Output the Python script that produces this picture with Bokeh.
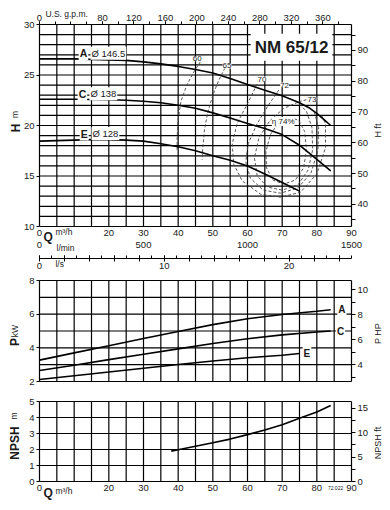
import math
from bokeh.plotting import figure
from bokeh.models import Range1d, LinearAxis, FixedTicker, Label
from bokeh.embed import file_html
from bokeh.resources import INLINE

FONT = "Liberation Sans"
TXT = "#1a1a1a"
W, HGT = 390, 510

# ---------------- data ----------------
q_head_A = [0, 10, 20, 25, 30, 35, 40, 45, 50, 55, 60, 65, 70, 75, 78, 80, 82, 84]
h_head_A = [26.6, 26.6, 26.5, 26.45, 26.3, 26.1, 25.85, 25.55, 25.2, 24.65, 24.05, 23.5, 22.95, 22.25, 21.7, 21.2, 20.6, 20.0]
q_head_C = [0, 10, 20, 25, 30, 35, 40, 45, 50, 55, 60, 65, 70, 75, 80, 84]
h_head_C = [22.6, 22.6, 22.55, 22.5, 22.4, 22.25, 22.0, 21.7, 21.25, 20.75, 20.2, 19.7, 19.1, 18.05, 16.65, 15.5]
q_head_E = [0, 5, 10, 15, 20, 25, 30, 35, 40, 45, 50, 55, 60, 65, 70, 75]
h_head_E = [18.45, 18.5, 18.55, 18.6, 18.6, 18.55, 18.45, 18.2, 17.9, 17.5, 17.0, 16.55, 16.0, 15.2, 14.35, 13.5]

eff60_q = [46.4, 44.5, 42.5, 40.8, 40.0, 39.7, 39.7]
eff60_h = [26.3, 25.3, 24.0, 22.4, 20.6, 18.8, 17.4]
eff65_q = [53.5, 51.6, 50.0, 48.6, 47.6, 47.1, 46.9]
eff65_h = [25.7, 24.4, 23.0, 21.4, 19.6, 17.8, 16.6]
eff70_q = [62.8, 59.9, 57.0, 55.6, 56.0, 58.5, 63.8, 69.5, 75.3, 80.0, 82.5, 82.5, 81.2]
eff70_h = [24.1, 22.1, 20.2, 18.2, 16.2, 14.5, 13.2, 12.9, 13.4, 15.2, 17.8, 20.2, 21.1]
eff72_q = [69.0, 66.0, 62.8, 60.2, 59.5, 60.8, 64.5, 69.5, 74.5, 78.3, 80.3, 80.5, 79.3]
eff72_h = [23.5, 22.0, 20.2, 18.2, 16.4, 14.8, 13.6, 13.3, 13.8, 15.3, 17.5, 19.8, 21.3]
eff73_q = [74.5, 70.5, 66.5, 63.3, 62.0, 62.8, 65.8, 70.0, 74.5, 77.5, 78.8, 78.6, 77.0, 74.5]
eff73_h = [22.3, 21.7, 20.5, 18.8, 16.8, 15.0, 13.9, 13.6, 14.1, 15.6, 17.6, 19.8, 21.4, 22.3]
eff74_q = [72.5, 69.0, 66.6, 65.3, 65.5, 67.3, 70.5, 73.8, 76.2, 77.0, 76.5, 74.8, 72.5]
eff74_h = [20.8, 20.3, 19.1, 17.4, 15.8, 14.6, 14.2, 14.6, 15.8, 17.6, 19.4, 20.5, 20.8]
eff73_leader_q = [74.8, 77.0]
eff73_leader_h = [22.35, 22.55]

q_pow = [0, 10, 20, 30, 40, 50, 60, 70, 80, 84]
p_A = [3.27, 3.7, 4.12, 4.55, 4.97, 5.38, 5.73, 5.98, 6.17, 6.26]
p_C = [2.65, 2.97, 3.3, 3.62, 3.94, 4.26, 4.54, 4.77, 4.94, 5.0]
q_pow_E = [0, 10, 20, 30, 40, 50, 60, 70, 75]
p_E = [2.12, 2.34, 2.56, 2.79, 3.01, 3.22, 3.41, 3.56, 3.66]

q_npsh = [38, 40, 45, 50, 55, 60, 65, 70, 75, 80, 84]
npsh = [1.9, 1.98, 2.2, 2.42, 2.65, 2.93, 3.22, 3.55, 3.95, 4.35, 4.75]

q_grid = list(range(0, 91, 5))
q_ticks = [0, 20, 30, 40, 50, 60, 70, 80, 90]
gpm_ticks = [0, 80, 120, 160, 200, 240, 280, 320, 360]
gpm_minor = list(range(0, 400, 20))
lmin_ticks = [0, 500, 1000, 1500]
ls_ticks = [0, 10, 20]
h_ticks = [10, 15, 20, 25, 30]
hft_ticks = [40, 50, 60, 70, 80, 90]
hft_minor = [35, 45, 55, 65, 75, 85, 95]
p_ticks = [2, 4, 6, 8]
hp_ticks = [4, 6, 8, 10]
hp_minor = [3, 5, 7, 9]
n_ticks = [0, 1, 2, 3, 4, 5]
nft_ticks = [0, 5, 10, 15]
nft_minor = [2.5, 7.5, 12.5]

M3H_TO_GPM = 1 / 0.2271247
M_TO_FT = 3.28084
KW_TO_HP = 1.34102

# ---------------- layout (pixel bands of each chart) ----------------
QX0, QX1 = 39, 351           # px of Q = 0 and Q = 90
sx = (QX1 - QX0) / 90.0
x_lo, x_hi = -QX0 / sx, 90 + (W - QX1) / sx


def band(lo, hi, px_lo, px_hi):
    s = (px_lo - px_hi) / (hi - lo)
    return (lo - (HGT - px_lo) / s, hi + px_hi / s)


H_RNG = band(10, 30, 226, 24)
P_RNG = band(2, 8, 381, 280)
N_RNG = band(0, 5, 481, 401)

p = figure(width=W, height=HGT, x_range=Range1d(x_lo, x_hi), y_range=Range1d(*H_RNG),
           output_backend="svg", toolbar_location=None,
           x_axis_location=None, y_axis_location=None,
           min_border_left=0, min_border_right=0, min_border_top=0, min_border_bottom=0)
p.outline_line_color = None
p.background_fill_color = "white"
p.border_fill_color = "white"
p.xgrid.visible = False
p.ygrid.visible = False

p.extra_x_ranges = {
    "gpm": Range1d(x_lo * M3H_TO_GPM, x_hi * M3H_TO_GPM),
    "lmin": Range1d(x_lo * 1500 / 90, x_hi * 1500 / 90),
    "ls": Range1d(x_lo * 25 / 90, x_hi * 25 / 90),
}
p.extra_y_ranges = {
    "Hft": Range1d(H_RNG[0] * M_TO_FT, H_RNG[1] * M_TO_FT),
    "P": Range1d(*P_RNG),
    "HP": Range1d(P_RNG[0] * KW_TO_HP, P_RNG[1] * KW_TO_HP),
    "N": Range1d(*N_RNG),
    "Nft": Range1d(N_RNG[0] * M_TO_FT, N_RNG[1] * M_TO_FT),
}


def axis(place, ticks, minor=None, size="9.5px", tick_out=3, tick_in=0, minor_out=0,
         minor_in=0, standoff=2, line=False, **kw):
    t = FixedTicker(ticks=ticks, minor_ticks=minor or [])
    ax = LinearAxis(ticker=t, **kw)
    ax.major_label_text_font = FONT
    ax.major_label_text_font_size = size
    ax.major_label_text_color = TXT
    ax.major_tick_out = tick_out
    ax.major_tick_in = tick_in
    ax.minor_tick_out = minor_out
    ax.minor_tick_in = minor_in
    ax.major_tick_line_color = "black"
    ax.minor_tick_line_color = "black"
    ax.major_label_standoff = standoff
    ax.axis_line_color = "black" if line else None
    p.add_layout(ax, place)
    return ax


def lab(x, y, text, size="9px", bold=False, align="left", baseline="middle",
        angle=0.0, bg=None, pad=0, yr="default", color=TXT):
    L = Label(x=x, y=y, text=text, text_font=FONT, text_font_size=size,
              text_font_style="bold" if bold else "normal", text_align=align,
              text_baseline=baseline, angle=angle, text_color=color, y_range_name=yr)
    if bg is not None:
        L.background_fill_color = bg
        L.padding = pad
    p.add_layout(L)
    return L


def chart_grid(lo, hi, yticks, yr):
    n = len(q_grid)
    p.segment(x0=q_grid, y0=[lo] * n, x1=q_grid, y1=[hi] * n, y_range_name=yr,
              line_color="black", line_width=1.2)
    m = len(yticks)
    p.segment(x0=[0] * m, y0=yticks, x1=[90] * m, y1=yticks, y_range_name=yr,
              line_color="black", line_width=1.2)


# ---------------- head chart ----------------
chart_grid(10, 30, list(range(10, 31)), "default")
axis("left", h_ticks, fixed_location=0)
axis("right", hft_ticks, hft_minor, tick_out=4, minor_out=4, fixed_location=90, y_range_name="Hft")
axis("above", gpm_ticks, gpm_minor, tick_out=3, minor_out=3, standoff=1,
     fixed_location=30, x_range_name="gpm")
axis("below", q_ticks, tick_out=0, standoff=3, fixed_location=10)
axis("below", lmin_ticks, tick_out=0, standoff=0, fixed_location=8.5, x_range_name="lmin")
ax_ls = axis("below", list(range(0, 25, 2)), list(range(0, 26)), tick_out=3, tick_in=3,
             minor_in=3, standoff=1, line=True, fixed_location=6.8, x_range_name="ls",
             bounds=(0, 25))
ax_ls.major_label_overrides = {t: "" for t in range(0, 25, 2) if t not in ls_ticks}

for qq, hh in [(eff60_q, eff60_h), (eff65_q, eff65_h), (eff70_q, eff70_h),
               (eff72_q, eff72_h), (eff73_q, eff73_h), (eff74_q, eff74_h),
               (eff73_leader_q, eff73_leader_h)]:
    p.line(qq, hh, line_color="#444444", line_width=0.9, line_dash="3 2")
for qq, hh in [(q_head_A, h_head_A), (q_head_C, h_head_C), (q_head_E, h_head_E)]:
    p.line(qq, hh, line_color="black", line_width=1.6)

for x, y, t in [(45.5, 26.6, "60"), (54.1, 25.9, "65"), (64.2, 24.6, "70"),
                (70.7, 24.0, "72"), (78.6, 22.6, "73")]:
    lab(x, y, t, size="8px", align="center", bg="white", pad=0)
lab(70.3, 20.4, "η 74%", size="8px", align="center", bg="white", pad=0)

for x, y, letter, d in [(11.3, 27.15, "A", "Ø 146.5"), (11.0, 23.15, "C", "Ø 138"),
                        (11.6, 19.2, "E", "Ø 128")]:
    lab(x, y, letter, size="10.5px", bold=True, bg="white", pad=1)
    lab(x + 3.4, y, d, size="9.5px", bg="white", pad=1)

lab(72.7, 27.75, "NM 65/12", size="17px", bold=True, align="center", bg="white", pad=4)
lab(1.7, 31.0, "U.S. g.p.m.", size="8.5px")
lab(1.15, 9.0, "Q", size="12px", bold=True)
lab(4.6, 9.45, "m³/h", size="8.5px")
lab(4.9, 7.92, "l/min", size="8.5px")
lab(4.6, 6.3, "l/s", size="8.5px")
lab(-6.9, 19.75, "H", size="12px", bold=True, align="center", angle=math.pi / 2)
lab(-7.1, 21.1, "m", size="8.5px", align="center", angle=math.pi / 2)
lab(97.6, 19.5, "H ft", size="9px", align="center", angle=math.pi / 2)

# ---------------- power chart ----------------
chart_grid(2, 8, list(range(2, 9)), "P")
axis("left", p_ticks, fixed_location=0, y_range_name="P")
axis("right", hp_ticks, hp_minor, tick_out=4, minor_out=4, fixed_location=90, y_range_name="HP")
p.line(q_pow, p_A, line_color="black", line_width=1.6, y_range_name="P")
p.line(q_pow, p_C, line_color="black", line_width=1.6, y_range_name="P")
p.line(q_pow_E, p_E, line_color="black", line_width=1.6, y_range_name="P")
lab(85.9, 6.28, "A", size="10px", bold=True, bg="white", pad=1, yr="P")
lab(85.5, 4.95, "C", size="10px", bold=True, bg="white", pad=1, yr="P")
lab(75.9, 3.68, "E", size="10px", bold=True, bg="white", pad=1, yr="P")
lab(-7.0, 4.34, "P", size="12px", bold=True, align="center", angle=math.pi / 2, yr="P")
lab(-7.1, 5.0, "kW", size="8.5px", align="center", angle=math.pi / 2, yr="P")
lab(97.6, 4.85, "P HP", size="9px", align="center", angle=math.pi / 2, yr="P")

# ---------------- NPSH chart ----------------
chart_grid(0, 5, list(range(0, 6)), "N")
axis("left", n_ticks, fixed_location=0, y_range_name="N")
axis("right", nft_ticks, nft_minor, tick_out=4, minor_out=4, fixed_location=90, y_range_name="Nft")
axis("below", q_ticks, tick_out=0, standoff=3, fixed_location=0, y_range_name="N")
p.line(q_npsh, npsh, line_color="black", line_width=1.6, y_range_name="N")
lab(-7.2, 2.4, "NPSH", size="12px", bold=True, align="center", angle=math.pi / 2, yr="N")
lab(-7.3, 4.1, "m", size="8.5px", align="center", angle=math.pi / 2, yr="N")
lab(97.6, 2.4, "NPSH ft", size="9px", align="center", angle=math.pi / 2, yr="N")
lab(1.15, -0.7, "Q", size="12px", bold=True, yr="N")
lab(4.6, -0.57, "m³/h", size="8.5px", yr="N")
lab(85.4, -0.42, "72.022", size="5px", align="center", yr="N")

open("out.html", "w").write(file_html(p, INLINE))
